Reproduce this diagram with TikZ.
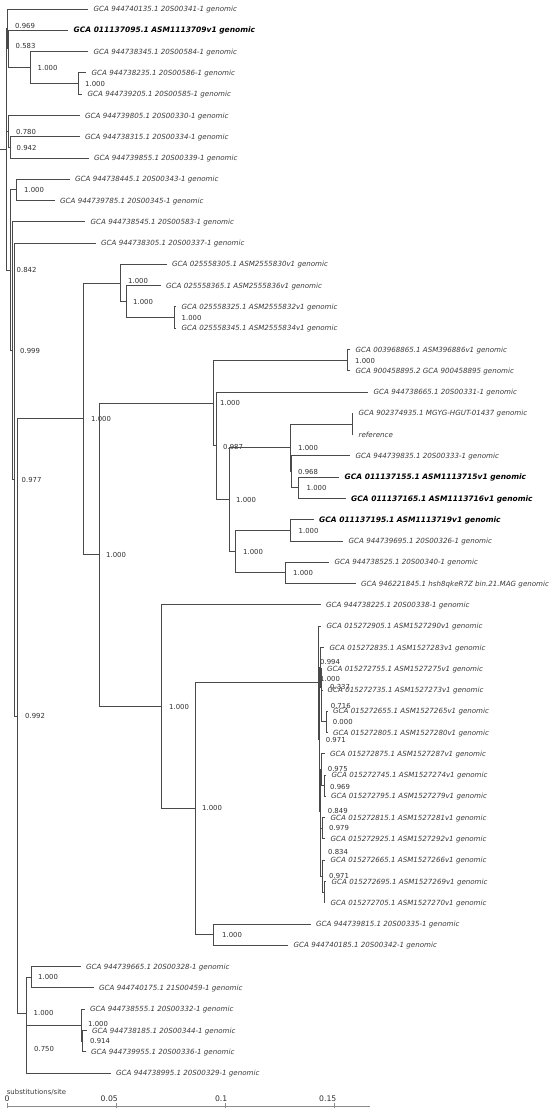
\documentclass[tikz,border=0pt]{standalone}
\usepackage{fontspec}
\setmainfont{DejaVu Sans}
\definecolor{branchgray}{HTML}{4A4A4A}
\definecolor{leafgray}{HTML}{3A3A3A}
\definecolor{suppgray}{HTML}{2E2E2E}
\definecolor{axisgray}{HTML}{8C8C8C}

\tikzset{
  branch/.style={draw=branchgray, line width=0.9pt},
  leaf/.style={anchor=west, xshift=5.5pt, inner sep=0pt, text height=5.2pt, text depth=0pt,
    font=\fontsize{7.1}{8}\selectfont\itshape, text=leafgray},
  hit/.style={leaf, font=\fontsize{7.5}{9}\selectfont\bfseries\itshape, text=black},
  supp/.style={anchor=west, inner sep=0pt, text height=5pt, text depth=0pt,
    font=\fontsize{6.9}{8}\selectfont, text=suppgray},
  ticklab/.style={anchor=east, inner sep=0pt, text height=5.6pt, text depth=0pt,
    font=\fontsize{7.7}{9}\selectfont, text=suppgray}
}

\begin{document}
\begin{tikzpicture}[x=1pt, y=-1pt]
\useasboundingbox (0,0) rectangle (550,1108);

\coordinate (l1) at (88,9);
\coordinate (l2) at (68,30.28);
\coordinate (l3) at (88,51.56);
\coordinate (l4) at (86,72.84);
\coordinate (l5) at (82,94.12);
\coordinate (l6) at (79.5,115.4);
\coordinate (l7) at (79.5,136.68);
\coordinate (l8) at (88.5,157.96);
\coordinate (l9) at (69.5,179.24);
\coordinate (l10) at (54.5,200.52);
\coordinate (l11) at (85,221.8);
\coordinate (l12) at (95.5,243.08);
\coordinate (l13) at (166.5,264.36);
\coordinate (l14) at (160.5,285.64);
\coordinate (l15) at (176,306.92);
\coordinate (l16) at (176,328.2);
\coordinate (l17) at (350,349.48);
\coordinate (l18) at (350,370.76);
\coordinate (l19) at (368,392.04);
\coordinate (l20) at (353,413.32);
\coordinate (l21) at (353,434.6);
\coordinate (l22) at (350,455.88);
\coordinate (l23) at (339,477.16);
\coordinate (l24) at (345.5,498.44);
\coordinate (l25) at (313.5,519.72);
\coordinate (l26) at (343,541);
\coordinate (l27) at (329,562.28);
\coordinate (l28) at (355.5,583.56);
\coordinate (l29) at (320.5,604.84);
\coordinate (l30) at (321,626.12);
\coordinate (l31) at (324,647.4);
\coordinate (l32) at (321.5,668.68);
\coordinate (l33) at (322,689.96);
\coordinate (l34) at (327.5,711.24);
\coordinate (l35) at (327.5,732.52);
\coordinate (l36) at (324.5,753.8);
\coordinate (l37) at (326,775.08);
\coordinate (l38) at (325.5,796.36);
\coordinate (l39) at (325,817.64);
\coordinate (l40) at (325,838.92);
\coordinate (l41) at (325,860.2);
\coordinate (l42) at (326,881.48);
\coordinate (l43) at (325,902.76);
\coordinate (l44) at (310.5,924.04);
\coordinate (l45) at (288,945.32);
\coordinate (l46) at (80.5,966.6);
\coordinate (l47) at (93.5,987.88);
\coordinate (l48) at (84.5,1009.16);
\coordinate (l49) at (86.5,1030.44);
\coordinate (l50) at (85.5,1051.72);
\coordinate (l51) at (110.5,1073);

\coordinate (r0) at (0,149.6);
\coordinate (root) at (6,149.6);
\coordinate (nB) at (7,28.95);
\coordinate (nA) at (8,48.9);
\coordinate (n3) at (30,67.52);
\coordinate (n45) at (78,83.48);
\coordinate (nC2) at (8,131.36);
\coordinate (n78) at (10,147.32);
\coordinate (n842) at (10.5,270.28);
\coordinate (n910) at (16,189.88);
\coordinate (n999) at (12.5,350.68);
\coordinate (n977) at (14.5,479.56);
\coordinate (n992) at (17,716.04);
\coordinate (nH) at (83,418.93);
\coordinate (nX) at (120,282.98);
\coordinate (nY) at (126,301.6);
\coordinate (nZ) at (174,317.56);
\coordinate (nW) at (99,554.88);
\coordinate (nV) at (213,403.01);
\coordinate (nU) at (347,360.12);
\coordinate (nT) at (216,445.9);
\coordinate (nR) at (229,499.77);
\coordinate (nQ) at (290,447.9);
\coordinate (nO) at (352,423.96);
\coordinate (nN) at (291,471.84);
\coordinate (nL) at (298,487.8);
\coordinate (nP) at (235,551.64);
\coordinate (nK) at (290,530.36);
\coordinate (nJ) at (285,572.92);
\coordinate (nG) at (161,706.75);
\coordinate (nE) at (195.5,808.66);
\coordinate (nC) at (213,934.68);
\coordinate (nD) at (318,682.65);
\coordinate (n971) at (319,739.17);
\coordinate (n994) at (320,667.35);
\coordinate (n337) at (321,687.3);
\coordinate (n716) at (321.5,705.92);
\coordinate (n000) at (326,721.88);
\coordinate (n849) at (320,810.99);
\coordinate (n975) at (321,769.76);
\coordinate (n969) at (324,785.72);
\coordinate (n834) at (320.5,852.22);
\coordinate (n979) at (322,828.28);
\coordinate (n971b) at (322.5,876.16);
\coordinate (n4243) at (324,892.12);
\coordinate (nBot) at (26,1013.15);
\coordinate (n4647) at (31,977.24);
\coordinate (n750) at (26.5,1049.06);
\coordinate (n48) at (81,1025.12);
\coordinate (n4950) at (82,1041.08);

\node[supp] (sB) at (15,26) {0.969};
\node[supp] (sA) at (15.5,45.7) {0.583};
\node[supp] (s3) at (37.5,68) {1.000};
\node[supp] (s45) at (85,83.5) {1.000};
\node[supp] (sC2) at (16,131.5) {0.780};
\node[supp] (s78) at (16.5,147.7) {0.942};
\node[supp] (s910) at (24,190) {1.000};
\node[supp] (s842) at (16.5,270) {0.842};
\node[supp] (s999) at (20,351) {0.999};
\node[supp] (s977) at (21.5,479.5) {0.977};
\node[supp] (s992) at (25,716) {0.992};
\node[supp] (sH) at (91,419) {1.000};
\node[supp] (sX) at (128,281) {1.000};
\node[supp] (sY) at (133,302) {1.000};
\node[supp] (sZ) at (181.5,318) {1.000};
\node[supp] (sW) at (106,555) {1.000};
\node[supp] (sV) at (220,403) {1.000};
\node[supp] (sU) at (355,360.5) {1.000};
\node[supp] (sT) at (223,447) {0.987};
\node[supp] (sR) at (236,500) {1.000};
\node[supp] (sQ) at (298,448) {1.000};
\node[supp] (sN) at (298,472) {0.968};
\node[supp] (sL) at (306.5,488) {1.000};
\node[supp] (sP) at (243,551.7) {1.000};
\node[supp] (sK) at (298.5,530.7) {1.000};
\node[supp] (sJ) at (293,572.7) {1.000};
\node[supp] (sG) at (169,707) {1.000};
\node[supp] (sE) at (202,808) {1.000};
\node[supp] (sC) at (222,935) {1.000};
\node[supp] (sD) at (320,679) {1.000};
\node[supp] (s994) at (320,662) {0.994};
\node[supp] (s337) at (330,686.7) {0.337};
\node[supp] (s716) at (330.7,705.5) {0.716};
\node[supp] (s000) at (332.7,722.3) {0.000};
\node[supp] (s971) at (325.7,740) {0.971};
\node[supp] (s975) at (327.7,769.3) {0.975};
\node[supp] (s969) at (330,786.5) {0.969};
\node[supp] (s849) at (327.7,810.7) {0.849};
\node[supp] (s979) at (329,828) {0.979};
\node[supp] (s834) at (328,852) {0.834};
\node[supp] (s971b) at (329,875.7) {0.971};
\node[supp] (sBot) at (33.5,1013) {1.000};
\node[supp] (s4647) at (38,977) {1.000};
\node[supp] (s750) at (34,1049) {0.750};
\node[supp] (s48) at (88,1024) {1.000};
\node[supp] (s4950) at (90,1041) {0.914};

\draw[branch] (r0) -- (root);
\draw[branch] (root) |- (nB) (root) |- (nC2) (root) |- (n842);
\draw[branch] (nB) |- (l1) (nB) |- (nA);
\draw[branch] (nA) |- (l2) (nA) |- (n3);
\draw[branch] (n3) |- (l3) (n3) |- (n45);
\draw[branch] (n45) |- (l4) (n45) |- (l5);
\draw[branch] (nC2) |- (l6) (nC2) |- (n78);
\draw[branch] (n78) |- (l7) (n78) |- (l8);
\draw[branch] (n842) |- (n910) (n842) |- (n999);
\draw[branch] (n910) |- (l9) (n910) |- (l10);
\draw[branch] (n999) |- (l11) (n999) |- (n977);
\draw[branch] (n977) |- (l12) (n977) |- (n992);
\draw[branch] (n992) |- (nH) (n992) |- (nBot);
\draw[branch] (nH) |- (nX) (nH) |- (nW);
\draw[branch] (nX) |- (l13) (nX) |- (nY);
\draw[branch] (nY) |- (l14) (nY) |- (nZ);
\draw[branch] (nZ) |- (l15) (nZ) |- (l16);
\draw[branch] (nW) |- (nV) (nW) |- (nG);
\draw[branch] (nV) |- (nU) (nV) |- (nT);
\draw[branch] (nU) |- (l17) (nU) |- (l18);
\draw[branch] (nT) |- (l19) (nT) |- (nR);
\draw[branch] (nR) |- (nQ) (nR) |- (nP);
\draw[branch] (nQ) |- (nO) (nQ) |- (nN);
\draw[branch] (nO) |- (l20) (nO) |- (l21);
\draw[branch] (nN) |- (l22) (nN) |- (nL);
\draw[branch] (nL) |- (l23) (nL) |- (l24);
\draw[branch] (nP) |- (nK) (nP) |- (nJ);
\draw[branch] (nK) |- (l25) (nK) |- (l26);
\draw[branch] (nJ) |- (l27) (nJ) |- (l28);
\draw[branch] (nG) |- (l29) (nG) |- (nE);
\draw[branch] (nE) |- (nD) (nE) |- (nC);
\draw[branch] (nC) |- (l44) (nC) |- (l45);
\draw[branch] (nD) |- (l30) (nD) |- (n971);
\draw[branch] (n971) |- (n994) (n971) |- (n849);
\draw[branch] (n994) |- (l31) (n994) |- (n337);
\draw[branch] (n337) |- (l32) (n337) |- (n716);
\draw[branch] (n716) |- (l33) (n716) |- (n000);
\draw[branch] (n000) |- (l34) (n000) |- (l35);
\draw[branch] (n849) |- (n975) (n849) |- (n834);
\draw[branch] (n975) |- (l36) (n975) |- (n969);
\draw[branch] (n969) |- (l37) (n969) |- (l38);
\draw[branch] (n834) |- (n979) (n834) |- (n971b);
\draw[branch] (n979) |- (l39) (n979) |- (l40);
\draw[branch] (n971b) |- (l41) (n971b) |- (n4243);
\draw[branch] (n4243) |- (l42) (n4243) |- (l43);
\draw[branch] (nBot) |- (n4647) (nBot) |- (n750);
\draw[branch] (n4647) |- (l46) (n4647) |- (l47);
\draw[branch] (n750) |- (n48) (n750) |- (l51);
\draw[branch] (n48) |- (l48) (n48) |- (n4950);
\draw[branch] (n4950) |- (l49) (n4950) |- (l50);

\node[leaf] (t1) at (l1) {GCA 944740135.1 20S00341-1 genomic};
\node[hit] (t2) at (l2) {GCA 011137095.1 ASM1113709v1 genomic};
\node[leaf] (t3) at (l3) {GCA 944738345.1 20S00584-1 genomic};
\node[leaf] (t4) at (l4) {GCA 944738235.1 20S00586-1 genomic};
\node[leaf] (t5) at (l5) {GCA 944739205.1 20S00585-1 genomic};
\node[leaf] (t6) at (l6) {GCA 944739805.1 20S00330-1 genomic};
\node[leaf] (t7) at (l7) {GCA 944738315.1 20S00334-1 genomic};
\node[leaf] (t8) at (l8) {GCA 944739855.1 20S00339-1 genomic};
\node[leaf] (t9) at (l9) {GCA 944738445.1 20S00343-1 genomic};
\node[leaf] (t10) at (l10) {GCA 944739785.1 20S00345-1 genomic};
\node[leaf] (t11) at (l11) {GCA 944738545.1 20S00583-1 genomic};
\node[leaf] (t12) at (l12) {GCA 944738305.1 20S00337-1 genomic};
\node[leaf] (t13) at (l13) {GCA 025558305.1 ASM2555830v1 genomic};
\node[leaf] (t14) at (l14) {GCA 025558365.1 ASM2555836v1 genomic};
\node[leaf] (t15) at (l15) {GCA 025558325.1 ASM2555832v1 genomic};
\node[leaf] (t16) at (l16) {GCA 025558345.1 ASM2555834v1 genomic};
\node[leaf] (t17) at (l17) {GCA 003968865.1 ASM396886v1 genomic};
\node[leaf] (t18) at (l18) {GCA 900458895.2 GCA 900458895 genomic};
\node[leaf] (t19) at (l19) {GCA 944738665.1 20S00331-1 genomic};
\node[leaf] (t20) at (l20) {GCA 902374935.1 MGYG-HGUT-01437 genomic};
\node[leaf] (t21) at (l21) {reference};
\node[leaf] (t22) at (l22) {GCA 944739835.1 20S00333-1 genomic};
\node[hit] (t23) at (l23) {GCA 011137155.1 ASM1113715v1 genomic};
\node[hit] (t24) at (l24) {GCA 011137165.1 ASM1113716v1 genomic};
\node[hit] (t25) at (l25) {GCA 011137195.1 ASM1113719v1 genomic};
\node[leaf] (t26) at (l26) {GCA 944739695.1 20S00326-1 genomic};
\node[leaf] (t27) at (l27) {GCA 944738525.1 20S00340-1 genomic};
\node[leaf] (t28) at (l28) {GCA 946221845.1 hsh8qkeR7Z bin.21.MAG genomic};
\node[leaf] (t29) at (l29) {GCA 944738225.1 20S00338-1 genomic};
\node[leaf] (t30) at (l30) {GCA 015272905.1 ASM1527290v1 genomic};
\node[leaf] (t31) at (l31) {GCA 015272835.1 ASM1527283v1 genomic};
\node[leaf] (t32) at (l32) {GCA 015272755.1 ASM1527275v1 genomic};
\node[leaf] (t33) at (l33) {GCA 015272735.1 ASM1527273v1 genomic};
\node[leaf] (t34) at (l34) {GCA 015272655.1 ASM1527265v1 genomic};
\node[leaf] (t35) at (l35) {GCA 015272805.1 ASM1527280v1 genomic};
\node[leaf] (t36) at (l36) {GCA 015272875.1 ASM1527287v1 genomic};
\node[leaf] (t37) at (l37) {GCA 015272745.1 ASM1527274v1 genomic};
\node[leaf] (t38) at (l38) {GCA 015272795.1 ASM1527279v1 genomic};
\node[leaf] (t39) at (l39) {GCA 015272815.1 ASM1527281v1 genomic};
\node[leaf] (t40) at (l40) {GCA 015272925.1 ASM1527292v1 genomic};
\node[leaf] (t41) at (l41) {GCA 015272665.1 ASM1527266v1 genomic};
\node[leaf] (t42) at (l42) {GCA 015272695.1 ASM1527269v1 genomic};
\node[leaf] (t43) at (l43) {GCA 015272705.1 ASM1527270v1 genomic};
\node[leaf] (t44) at (l44) {GCA 944739815.1 20S00335-1 genomic};
\node[leaf] (t45) at (l45) {GCA 944740185.1 20S00342-1 genomic};
\node[leaf] (t46) at (l46) {GCA 944739665.1 20S00328-1 genomic};
\node[leaf] (t47) at (l47) {GCA 944740175.1 21S00459-1 genomic};
\node[leaf] (t48) at (l48) {GCA 944738555.1 20S00332-1 genomic};
\node[leaf] (t49) at (l49) {GCA 944738185.1 20S00344-1 genomic};
\node[leaf] (t50) at (l50) {GCA 944739955.1 20S00336-1 genomic};
\node[leaf] (t51) at (l51) {GCA 944738995.1 20S00329-1 genomic};

\coordinate (a0) at (7,1106.5);
\coordinate (a1) at (370,1106.5);
\coordinate (k0) at (7,1103);
\coordinate (k1) at (116,1103);
\coordinate (k2) at (225,1103);
\coordinate (k3) at (334,1103);
\draw[axisgray, line width=0.8pt] (a0) -- (a1);
\draw[axisgray, line width=0.8pt] (k0) -- ++(0,6) (k1) -- ++(0,6) (k2) -- ++(0,6) (k3) -- ++(0,6);
\node[supp, text=leafgray] (unit) at (6.7,1091.5) {substitutions/site};
\node[ticklab] (v0) at (9.8,1098.5) {0};
\node[ticklab] (v1) at (118,1098.5) {0.05};
\node[ticklab] (v2) at (227.5,1098.5) {0.1};
\node[ticklab] (v3) at (336.5,1098.5) {0.15};
\end{tikzpicture}
\end{document}
